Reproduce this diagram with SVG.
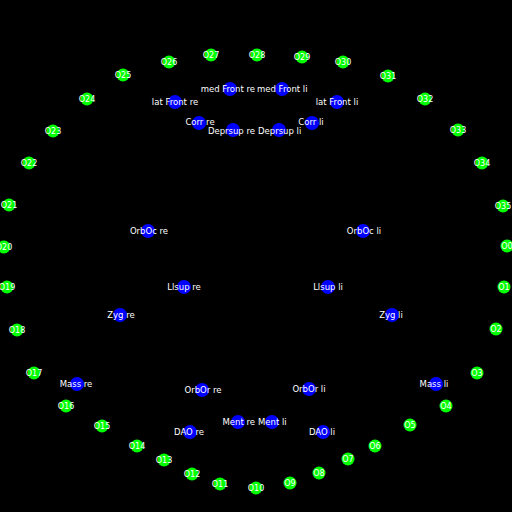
<svg xmlns="http://www.w3.org/2000/svg" width="512" height="512" viewBox="0 0 512 512">
<style>
.g{fill:#00ff00}
.b{fill:#0000ff}
text{font-family:"DejaVu Sans","Liberation Sans",sans-serif;fill:#fff;text-anchor:middle}
.gt{font-size:8px}
.bt{font-size:8.5px}
.e{text-anchor:end}
.s{text-anchor:start}
</style>
<rect width="512" height="512" fill="#000"/>
<g id="outline">
<g id="O0"><circle class="g" cx="507" cy="246" r="6.5"/><text class="gt" x="507" y="249">O0</text></g>
<g id="O1"><circle class="g" cx="504" cy="287" r="6.5"/><text class="gt" x="504" y="290">O1</text></g>
<g id="O2"><circle class="g" cx="496" cy="329" r="6.5"/><text class="gt" x="496" y="332">O2</text></g>
<g id="O3"><circle class="g" cx="477" cy="373" r="6.5"/><text class="gt" x="477" y="376">O3</text></g>
<g id="O4"><circle class="g" cx="446" cy="406" r="6.5"/><text class="gt" x="446" y="409">O4</text></g>
<g id="O5"><circle class="g" cx="410" cy="425" r="6.5"/><text class="gt" x="410" y="428">O5</text></g>
<g id="O6"><circle class="g" cx="375" cy="446" r="6.5"/><text class="gt" x="375" y="449">O6</text></g>
<g id="O7"><circle class="g" cx="348" cy="459" r="6.5"/><text class="gt" x="348" y="462">O7</text></g>
<g id="O8"><circle class="g" cx="319" cy="473" r="6.5"/><text class="gt" x="319" y="476">O8</text></g>
<g id="O9"><circle class="g" cx="290" cy="483" r="6.5"/><text class="gt" x="290" y="486">O9</text></g>
<g id="O10"><circle class="g" cx="256" cy="488" r="6.5"/><text class="gt" x="256" y="491">O10</text></g>
<g id="O11"><circle class="g" cx="220" cy="484" r="6.5"/><text class="gt" x="220" y="487">O11</text></g>
<g id="O12"><circle class="g" cx="192" cy="474" r="6.5"/><text class="gt" x="192" y="477">O12</text></g>
<g id="O13"><circle class="g" cx="164" cy="460" r="6.5"/><text class="gt" x="164" y="463">O13</text></g>
<g id="O14"><circle class="g" cx="137" cy="446" r="6.5"/><text class="gt" x="137" y="449">O14</text></g>
<g id="O15"><circle class="g" cx="102" cy="426" r="6.5"/><text class="gt" x="102" y="429">O15</text></g>
<g id="O16"><circle class="g" cx="66" cy="406" r="6.5"/><text class="gt" x="66" y="409">O16</text></g>
<g id="O17"><circle class="g" cx="34" cy="373" r="6.5"/><text class="gt" x="34" y="376">O17</text></g>
<g id="O18"><circle class="g" cx="17" cy="330" r="6.5"/><text class="gt" x="17" y="333">O18</text></g>
<g id="O19"><circle class="g" cx="7" cy="287" r="6.5"/><text class="gt" x="7" y="290">O19</text></g>
<g id="O20"><circle class="g" cx="4" cy="247" r="6.5"/><text class="gt" x="4" y="250">O20</text></g>
<g id="O21"><circle class="g" cx="9" cy="205" r="6.5"/><text class="gt" x="9" y="208">O21</text></g>
<g id="O22"><circle class="g" cx="29" cy="163" r="6.5"/><text class="gt" x="29" y="166">O22</text></g>
<g id="O23"><circle class="g" cx="53" cy="131" r="6.5"/><text class="gt" x="53" y="134">O23</text></g>
<g id="O24"><circle class="g" cx="87" cy="99" r="6.5"/><text class="gt" x="87" y="102">O24</text></g>
<g id="O25"><circle class="g" cx="123" cy="75" r="6.5"/><text class="gt" x="123" y="78">O25</text></g>
<g id="O26"><circle class="g" cx="169" cy="62" r="6.5"/><text class="gt" x="169" y="65">O26</text></g>
<g id="O27"><circle class="g" cx="211" cy="55" r="6.5"/><text class="gt" x="211" y="58">O27</text></g>
<g id="O28"><circle class="g" cx="257" cy="55" r="6.5"/><text class="gt" x="257" y="58">O28</text></g>
<g id="O29"><circle class="g" cx="302" cy="57" r="6.5"/><text class="gt" x="302" y="60">O29</text></g>
<g id="O30"><circle class="g" cx="343" cy="62" r="6.5"/><text class="gt" x="343" y="65">O30</text></g>
<g id="O31"><circle class="g" cx="388" cy="76" r="6.5"/><text class="gt" x="388" y="79">O31</text></g>
<g id="O32"><circle class="g" cx="425" cy="99" r="6.5"/><text class="gt" x="425" y="102">O32</text></g>
<g id="O33"><circle class="g" cx="458" cy="130" r="6.5"/><text class="gt" x="458" y="133">O33</text></g>
<g id="O34"><circle class="g" cx="482" cy="163" r="6.5"/><text class="gt" x="482" y="166">O34</text></g>
<g id="O35"><circle class="g" cx="503" cy="206" r="6.5"/><text class="gt" x="503" y="209">O35</text></g>
</g>
<g id="landmarks">
<g id="medFrontRe"><circle class="b" cx="230" cy="89" r="7"/><text class="bt e" x="255" y="92">med Front re</text></g>
<g id="medFrontLi"><circle class="b" cx="282" cy="89" r="7"/><text class="bt s" x="257" y="92">med Front li</text></g>
<g id="latFrontRe"><circle class="b" cx="175" cy="102" r="7"/><text class="bt" x="175" y="105">lat Front re</text></g>
<g id="latFrontLi"><circle class="b" cx="337" cy="102" r="7"/><text class="bt" x="337" y="105">lat Front li</text></g>
<g id="CorrRe"><circle class="b" cx="199" cy="123" r="7"/><text class="bt" x="200" y="125">Corr re</text></g>
<g id="CorrLi"><circle class="b" cx="312" cy="123" r="7"/><text class="bt" x="311" y="125">Corr li</text></g>
<g id="DeprsupRe"><circle class="b" cx="233" cy="130" r="7"/><text class="bt e" x="255" y="134">Deprsup re</text></g>
<g id="DeprsupLi"><circle class="b" cx="279" cy="130" r="7"/><text class="bt s" x="258" y="134">Deprsup li</text></g>
<g id="OrbOcRe"><circle class="b" cx="148" cy="231" r="7"/><text class="bt" x="149" y="234">OrbOc re</text></g>
<g id="OrbOcLi"><circle class="b" cx="363" cy="231" r="7"/><text class="bt" x="364" y="234">OrbOc li</text></g>
<g id="LlsupRe"><circle class="b" cx="184" cy="287" r="7"/><text class="bt" x="184" y="290">Llsup re</text></g>
<g id="LlsupLi"><circle class="b" cx="328" cy="287" r="7"/><text class="bt" x="328" y="290">Llsup li</text></g>
<g id="ZygRe"><circle class="b" cx="120" cy="315" r="7"/><text class="bt" x="121" y="318">Zyg re</text></g>
<g id="ZygLi"><circle class="b" cx="392" cy="315" r="7"/><text class="bt" x="391" y="318">Zyg li</text></g>
<g id="MassRe"><circle class="b" cx="77" cy="384" r="7"/><text class="bt" x="76" y="387">Mass re</text></g>
<g id="MassLi"><circle class="b" cx="436" cy="384" r="7"/><text class="bt" x="434" y="387">Mass li</text></g>
<g id="OrbOrRe"><circle class="b" cx="202" cy="390" r="7"/><text class="bt" x="203" y="393">OrbOr re</text></g>
<g id="OrbOrLi"><circle class="b" cx="309" cy="389" r="7"/><text class="bt" x="309" y="392">OrbOr li</text></g>
<g id="MentRe"><circle class="b" cx="238" cy="422" r="7"/><text class="bt e" x="255" y="425">Ment re</text></g>
<g id="MentLi"><circle class="b" cx="272" cy="422" r="7"/><text class="bt s" x="258" y="425">Ment li</text></g>
<g id="DAORe"><circle class="b" cx="190" cy="432" r="7"/><text class="bt" x="189" y="435">DAO re</text></g>
<g id="DAOLi"><circle class="b" cx="323" cy="432" r="7"/><text class="bt" x="322" y="435">DAO li</text></g>
</g>
</svg>
